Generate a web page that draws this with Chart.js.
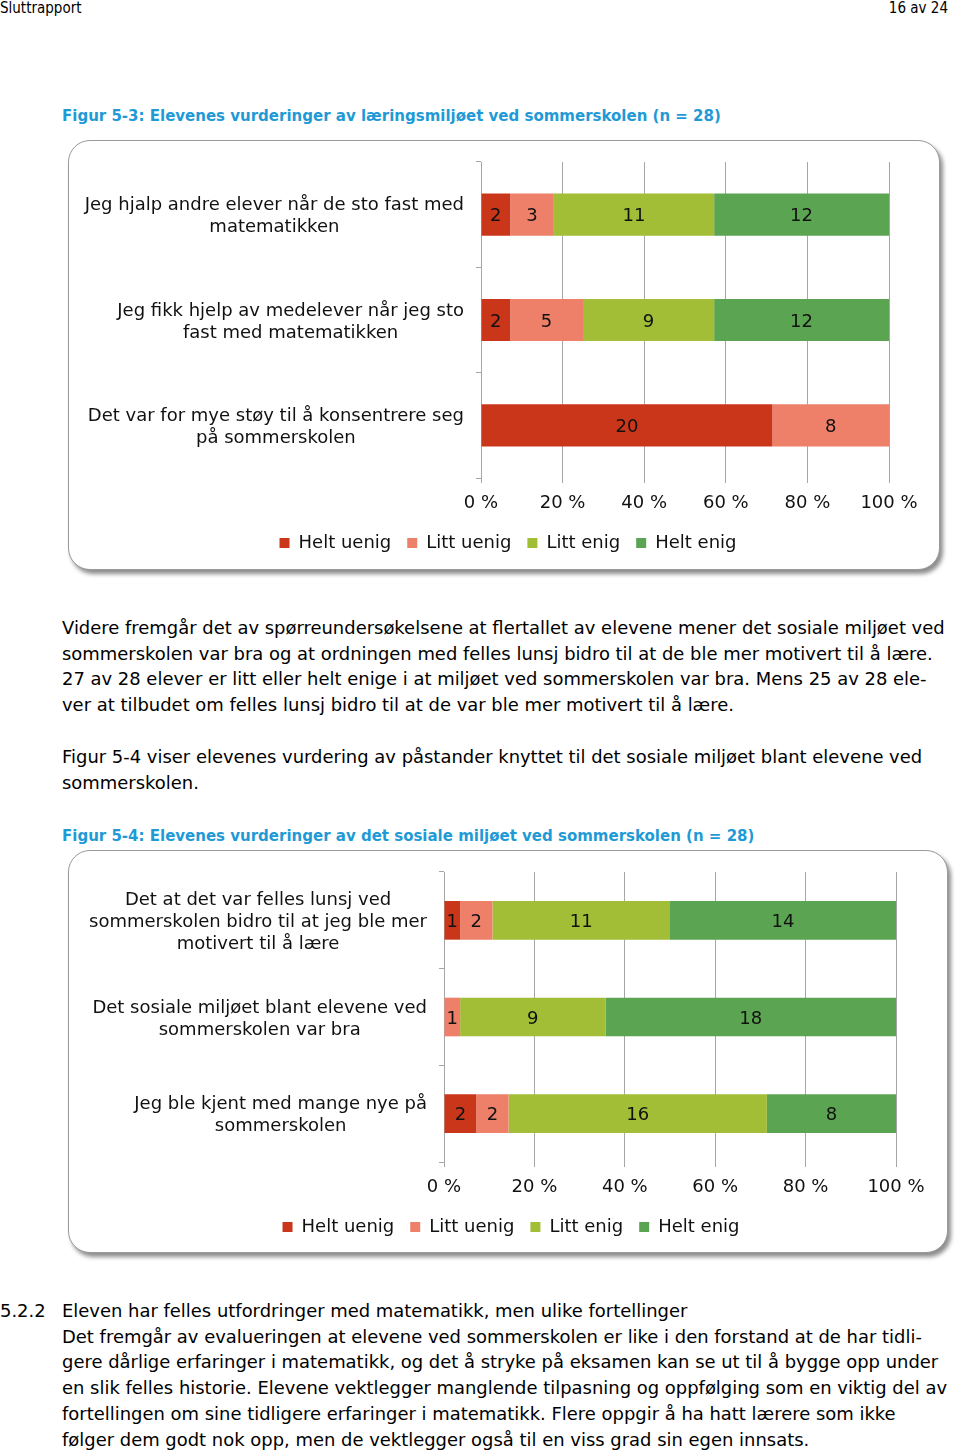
<!DOCTYPE html>
<html><head><meta charset="utf-8">
<script src="https://cdn.jsdelivr.net/npm/chart.js@4/dist/chart.umd.min.js"></script>
<style>
html,body{margin:0;padding:0;background:#fff;}
body{width:960px;height:1453px;position:relative;overflow:hidden;font-family:'DejaVu Sans',Verdana,sans-serif;color:#000;}
.t{position:absolute;left:62px;white-space:nowrap;font-size:17.95px;line-height:26px;}
.cap{position:absolute;left:62px;white-space:nowrap;font-size:15px;line-height:20px;font-weight:bold;color:#1f9ad6;}
.hdr{position:absolute;top:0;white-space:nowrap;font-family:'DejaVu Sans Condensed','DejaVu Sans',sans-serif;font-size:15px;line-height:16px;}
.box{position:absolute;border:1.5px solid #9a9a9a;border-radius:22px;box-shadow:3px 4px 4px rgba(0,0,0,0.45);background:#fff;box-sizing:border-box;}
canvas{position:absolute;}
</style></head>
<body>
<div class="hdr" style="left:0">Sluttrapport</div>
<div class="hdr" style="right:12px">16 av 24</div>

<div class="cap" style="top:106px">Figur 5-3: Elevenes vurderinger av læringsmiljøet ved sommerskolen (n = 28)</div>
<div class="box" style="left:68px;top:140px;width:872px;height:430px"></div>
<canvas id="c1" width="872" height="430" style="left:68px;top:140px"></canvas>

<div class="t" style="top:615px">Videre fremgår det av spørreundersøkelsene at flertallet av elevene mener det sosiale miljøet ved</div>
<div class="t" style="top:641px">sommerskolen var bra og at ordningen med felles lunsj bidro til at de ble mer motivert til å lære.</div>
<div class="t" style="top:666px">27 av 28 elever er litt eller helt enige i at miljøet ved sommerskolen var bra. Mens 25 av 28 ele-</div>
<div class="t" style="top:692px">ver at tilbudet om felles lunsj bidro til at de var ble mer motivert til å lære.</div>
<div class="t" style="top:744px">Figur 5-4 viser elevenes vurdering av påstander knyttet til det sosiale miljøet blant elevene ved</div>
<div class="t" style="top:770px">sommerskolen.</div>

<div class="cap" style="top:826px">Figur 5-4: Elevenes vurderinger av det sosiale miljøet ved sommerskolen (n = 28)</div>
<div class="box" style="left:68px;top:850px;width:880px;height:403px"></div>
<canvas id="c2" width="880" height="403" style="left:68px;top:850px"></canvas>

<div class="t" style="top:1298px;left:0">5.2.2</div>
<div class="t" style="top:1298px">Eleven har felles utfordringer med matematikk, men ulike fortellinger</div>
<div class="t" style="top:1324px">Det fremgår av evalueringen at elevene ved sommerskolen er like i den forstand at de har tidli-</div>
<div class="t" style="top:1349px">gere dårlige erfaringer i matematikk, og det å stryke på eksamen kan se ut til å bygge opp under</div>
<div class="t" style="top:1375px">en slik felles historie. Elevene vektlegger manglende tilpasning og oppfølging som en viktig del av</div>
<div class="t" style="top:1401px">fortellingen om sine tidligere erfaringer i matematikk. Flere oppgir å ha hatt lærere som ikke</div>
<div class="t" style="top:1427px">følger dem godt nok opp, men de vektlegger også til en viss grad sin egen innsats.</div>

<script>
// ---- data ----
const seriesNames = ['Helt uenig', 'Litt uenig', 'Litt enig', 'Helt enig'];
const seriesColors = ['#c9361a', '#ee806a', '#a2bd36', '#5ba452'];
const tickValues = [0, 20, 40, 60, 80, 100];
const tickLabels = ['0 %', '20 %', '40 %', '60 %', '80 %', '100 %'];

const categories1 = [
  ['Jeg hjalp andre elever når de sto fast med', 'matematikken'],
  ['Jeg fikk hjelp av medelever når jeg sto', 'fast med matematikken'],
  ['Det var for mye støy til å konsentrere seg', 'på sommerskolen']
];
const heltUenig1 = [2, 2, 20];
const littUenig1 = [3, 5, 8];
const littEnig1  = [11, 9, 0];
const heltEnig1  = [12, 12, 0];

const categories2 = [
  ['Det at det var felles lunsj ved', 'sommerskolen bidro til at jeg ble mer', 'motivert til å lære'],
  ['Det sosiale miljøet blant elevene ved', 'sommerskolen var bra'],
  ['Jeg ble kjent med mange nye på', 'sommerskolen']
];
const heltUenig2 = [1, 0, 2];
const littUenig2 = [2, 1, 2];
const littEnig2  = [11, 9, 16];
const heltEnig2  = [14, 18, 8];

// ---- drawing ----
const FAMILY = "'DejaVu Sans', Verdana, sans-serif";
const FSIZE = 18;
const LINE_H = 22;

function buildChart(canvasId, categories, counts, geo) {
  const totals = categories.map((_, i) => counts.reduce((s, arr) => s + arr[i], 0));
  const datasets = counts.map((arr, k) => ({
    label: seriesNames[k],
    data: arr.map((v, i) => v / totals[i] * 100),
    counts: arr,
    backgroundColor: seriesColors[k],
    borderWidth: 0,
    barPercentage: 0.4,
    categoryPercentage: 1.0
  }));
  const labelPlugin = {
    id: 'lbl_' + canvasId,
    afterDatasetsDraw(chart) {
      const ctx = chart.ctx;
      ctx.save();
      ctx.font = FSIZE + 'px ' + FAMILY;
      ctx.fillStyle = '#111';
      ctx.textAlign = 'center';
      ctx.textBaseline = 'middle';
      chart.data.datasets.forEach((ds, k) => {
        const meta = chart.getDatasetMeta(k);
        meta.data.forEach((bar, i) => {
          const c = ds.counts[i];
          if (!c) return;
          const p = bar.getProps(['x', 'base', 'y'], true);
          ctx.fillText(String(c), (p.x + p.base) / 2, p.y + 2);
        });
      });
      const ys = chart.scales.y;
      const right = chart.chartArea.left - geo.labelGap;
      chart.data.labels.forEach((lines, i) => {
        const y0 = ys.getPixelForTick(i) + 2;
        const w = Math.max(...lines.map(l => ctx.measureText(l).width));
        const cx = right - w / 2;
        lines.forEach((l, j) => ctx.fillText(l, cx, y0 + (j - (lines.length - 1) / 2) * LINE_H));
      });
      ctx.restore();
    }
  };
  return new Chart(document.getElementById(canvasId), {
    type: 'bar',
    data: { labels: categories, datasets },
    options: {
      indexAxis: 'y',
      responsive: false,
      animation: false,
      layout: { padding: { top: geo.padTop, right: geo.padRight, bottom: geo.padBottom, left: geo.padLeft } },
      scales: {
        x: {
          stacked: true, min: 0, max: 100,
          ticks: {
            stepSize: 20, maxRotation: 0, padding: 10, color: '#111',
            font: { family: FAMILY, size: FSIZE },
            callback: v => tickLabels[tickValues.indexOf(v)]
          },
          grid: { color: '#a6a6a6', tickLength: 5, lineWidth: 1 },
          border: { display: false },
          afterFit: s => { s.height = geo.xHeight; }
        },
        y: {
          stacked: true,
          ticks: { display: false },
          grid: { drawOnChartArea: false, tickLength: 5, color: '#a6a6a6', offset: true },
          border: { display: true, color: '#a6a6a6' },
          afterFit: s => { s.width = geo.yWidth; }
        }
      },
      plugins: {
        legend: {
          position: 'bottom',
          labels: { boxWidth: 10, boxHeight: 10, padding: 16, color: '#111', font: { family: FAMILY, size: FSIZE } }
        },
        tooltip: { enabled: false }
      }
    },
    plugins: [labelPlugin]
  });
}

buildChart('c1', categories1, [heltUenig1, littUenig1, littEnig1, heltEnig1],
  { padTop: 22, padRight: 51, padLeft: 59, padBottom: 8, yWidth: 354, xHeight: 40, labelGap: 17 });
buildChart('c2', categories2, [heltUenig2, littUenig2, littEnig2, heltEnig2],
  { padTop: 22, padRight: 52, padLeft: 58, padBottom: 7, yWidth: 318, xHeight: 40, labelGap: 17 });
</script>
</body></html>
